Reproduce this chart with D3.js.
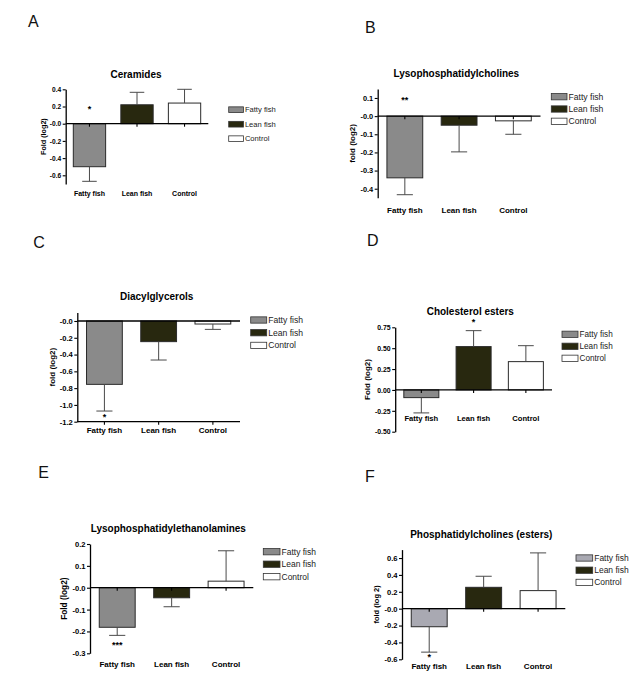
<!DOCTYPE html>
<html>
<head>
<meta charset="utf-8">
<script src="https://cdn.jsdelivr.net/npm/d3@7"></script>
<style>
  body { margin: 0; background: #fff; }
  svg { display: block; font-family: "Liberation Sans", Arial, sans-serif; }
</style>
</head>
<body>
<div id="chart"></div>
<script>
// groups shown in every panel
var groups = ["Fatty fish", "Lean fish", "Control"];

var panelLetters = ["A", "B", "C", "D", "E", "F"];
var panelTitles = [
  "Ceramides",
  "Lysophosphatidylcholines",
  "Diacylglycerols",
  "Cholesterol esters",
  "Lysophosphatidylethanolamines",
  "Phosphatidylcholines (esters)"
];
var yTitles = ["Fold (log2)", "fold (log2)", "fold (log2)", "Fold (log2)", "Fold (log2)", "fold (log 2)"];

// mean fold change (log2) and SEM
var ceramidesMean = [-0.50, 0.22, 0.24];
var ceramidesErr = [0.17, 0.145, 0.16];
var lpcMean = [-0.34, -0.05, -0.026];
var lpcErr = [0.093, 0.147, 0.074];
var dagMean = [-0.755, -0.246, -0.036];
var dagErr = [0.318, 0.219, 0.064];
var cholMean = [-0.092, 0.519, 0.339];
var cholErr = [0.183, 0.191, 0.191];
var lpeMean = [-0.181, -0.046, 0.03];
var lpeErr = [0.037, 0.041, 0.139];
var pcMean = [-0.214, 0.253, 0.214];
var pcErr = [0.301, 0.131, 0.447];

// significance marks
var ceramidesSig = ["*", "", ""];
var lpcSig = ["**", "", ""];
var dagSig = ["*", "", ""];
var cholSig = ["", "*", ""];
var lpeSig = ["***", "", ""];
var pcSig = ["*", "", ""];

// y axes
var yDomains = [[-0.7, 0.4], [-0.45, 0.15], [-1.2, 0.1], [-0.5, 0.75], [-0.3, 0.2], [-0.6, 0.7]];
var yTickValues = [
  [0.4, 0.2, 0, -0.2, -0.4, -0.6],
  [0.1, 0, -0.1, -0.2, -0.3, -0.4],
  [0, -0.2, -0.4, -0.6, -0.8, -1.0, -1.2],
  [0.75, 0.5, 0.25, 0, -0.25, -0.5],
  [0.2, 0.1, 0, -0.1, -0.2, -0.3],
  [0.6, 0.4, 0.2, 0, -0.2, -0.4, -0.6]
];
var yTickLabels = [
  ["0.4", "0.2", "-0.0", "-0.2", "-0.4", "-0.6"],
  ["0.1", "-0.0", "-0.1", "-0.2", "-0.3", "-0.4"],
  ["-0.0", "-0.2", "-0.4", "-0.6", "-0.8", "-1.0", "-1.2"],
  ["0.75", "0.50", "0.25", "0.00", "-0.25", "-0.50"],
  ["0.2", "0.1", "-0.0", "-0.1", "-0.2", "-0.3"],
  ["0.6", "0.4", "0.2", "-0.0", "-0.2", "-0.4", "-0.6"]
];

var means = [ceramidesMean, lpcMean, dagMean, cholMean, lpeMean, pcMean];
var errs = [ceramidesErr, lpcErr, dagErr, cholErr, lpeErr, pcErr];
var sigs = [ceramidesSig, lpcSig, dagSig, cholSig, lpeSig, pcSig];

// layout of each panel (pixels)
var layout = [
  { x0: 65.7, w: 142.6, yTop: 89.3, yBot: 183.9, pad: 0.32, axisAt: 0, ylabOff: 22.5, ylabSize: 7.2, tickSize: 6.6,
    letter: [28, 26.7], title: [136, 77.5], labY: 195.5, labSize: 7, sigAt: 0.19,
    leg: [228.7, 109.7, 14.5, 14.7, 5.7, 7.6], fatty: "#8a8a8a" },
  { x0: 377.7, w: 162.8, yTop: 88.9, yBot: 197.8, pad: 0.34, axisAt: 0, ylabOff: 25.7, ylabSize: 8, tickSize: 7.4,
    letter: [365, 33.3], title: [456.3, 76.7], labY: 212.7, labSize: 8, sigAt: 0.1,
    leg: [551.3, 96.7, 12.3, 15.7, 6.3, 8.6], fatty: "#8a8a8a" },
  { x0: 77.3, w: 162.7, yTop: 312.6, yBot: 421.7, pad: 0.34, axisAt: -1.2, ylabOff: 25.6, ylabSize: 8, tickSize: 7.6,
    letter: [33.3, 248.3], title: [156.7, 300], labY: 432.7, labSize: 8, sigAt: -1.123,
    leg: [250.7, 320, 12.7, 16, 6.3, 8.6], fatty: "#8a8a8a" },
  { x0: 395.2, w: 156.8, yTop: 327.3, yBot: 431.7, pad: 0.33, axisAt: 0, ylabOff: 28.4, ylabSize: 8, tickSize: 6.9,
    letter: [367, 246], title: [470.3, 315], labY: 421, labSize: 7.6, sigAt: 0.837,
    leg: [562, 334.3, 12, 16, 6.3, 8.2], fatty: "#8a8a8a" },
  { x0: 90, w: 163.3, yTop: 544, yBot: 653.3, pad: 0.34, axisAt: 0, ylabOff: 25.7, ylabSize: 8.3, tickSize: 7.6,
    letter: [38.3, 478.3], title: [168.3, 531.7], labY: 666.7, labSize: 8, sigAt: -0.254,
    leg: [263.3, 551.7, 12.5, 16.7, 6.3, 8.5], fatty: "#8a8a8a" },
  { x0: 402, w: 163.3, yTop: 549.6, yBot: 659.3, pad: 0.34, axisAt: 0, ylabOff: 25.7, ylabSize: 7.5, tickSize: 7.6,
    letter: [365, 481.7], title: [481.3, 537.7], labY: 668.7, labSize: 8, sigAt: -0.55,
    leg: [576, 558, 12.2, 16.7, 6.3, 8.5], fatty: "#a9a9b2" }
];

var leanColor = "#28280f";
var controlColor = "#ffffff";

var svg = d3.select("#chart")
  .append("svg")
  .attr("width", 644)
  .attr("height", 681);

svg.append("rect")
  .attr("width", 644)
  .attr("height", 681)
  .attr("fill", "#fff");

panelTitles.forEach(function(title, i) {
  var L = layout[i];
  var colors = [L.fatty, leanColor, controlColor];
  var g = svg.append("g");

  var y = d3.scaleLinear()
    .domain(yDomains[i])
    .range([L.yBot, L.yTop]);

  var x = d3.scaleBand()
    .domain(groups)
    .range([L.x0, L.x0 + L.w])
    .paddingInner(L.pad)
    .paddingOuter(L.pad / 2);

  // panel letter
  g.append("text")
    .attr("x", L.letter[0])
    .attr("y", L.letter[1])
    .attr("font-size", 16)
    .attr("fill", "#111")
    .text(panelLetters[i]);

  // title
  g.append("text")
    .attr("x", L.title[0])
    .attr("y", L.title[1])
    .attr("text-anchor", "middle")
    .attr("font-size", 10)
    .attr("font-weight", "bold")
    .text(title);

  var rows = groups.map(function(name, j) {
    return { name: name, mean: means[i][j], err: errs[i][j], sig: sigs[i][j], color: colors[j] };
  });

  // bars
  g.selectAll("rect.bar")
    .data(rows)
    .enter()
    .append("rect")
    .attr("class", "bar")
    .attr("x", d => x(d.name))
    .attr("width", x.bandwidth())
    .attr("y", d => y(Math.max(0, d.mean)))
    .attr("height", d => Math.abs(y(d.mean) - y(0)))
    .attr("fill", d => d.color)
    .attr("stroke", "#2a2a2a")
    .attr("stroke-width", 1);

  // error bars (one-sided, away from zero)
  var cap = x.bandwidth() * 0.45;
  rows.forEach(function(d) {
    var cx = x(d.name) + x.bandwidth() / 2;
    var end = d.mean + (d.mean < 0 ? -d.err : d.err);
    g.append("line")
      .attr("x1", cx).attr("x2", cx)
      .attr("y1", y(d.mean)).attr("y2", y(end))
      .attr("stroke", "#4a4a4a").attr("stroke-width", 1);
    g.append("line")
      .attr("x1", cx - cap / 2).attr("x2", cx + cap / 2)
      .attr("y1", y(end)).attr("y2", y(end))
      .attr("stroke", "#4a4a4a").attr("stroke-width", 1);
    if (d.sig) {
      g.append("text")
        .attr("x", cx)
        .attr("y", y(L.sigAt) + 5)
        .attr("text-anchor", "middle")
        .attr("font-size", 9)
        .attr("font-weight", "bold")
        .text(d.sig);
    }
  });

  // y axis
  var leftAxis = d3.axisLeft(y)
    .tickValues(yTickValues[i])
    .tickFormat((d, j) => yTickLabels[i][j])
    .tickSize(3)
    .tickSizeOuter(0)
    .tickPadding(1.5);

  var yAxis = g.append("g")
    .attr("transform", `translate(${L.x0}, 0)`)
    .call(leftAxis);
  yAxis.select(".domain").attr("stroke", "#000").attr("stroke-width", 1.3);
  yAxis.selectAll(".tick line").attr("stroke", "#000").attr("stroke-width", 1.1);
  yAxis.selectAll(".tick text")
    .attr("font-family", "Liberation Sans, Arial, sans-serif")
    .attr("font-size", L.tickSize)
    .attr("font-weight", "bold")
    .attr("fill", "#000");

  // y title
  g.append("text")
    .attr("transform", `translate(${L.x0 - L.ylabOff}, ${(L.yTop + L.yBot) / 2}) rotate(-90)`)
    .attr("text-anchor", "middle")
    .attr("dy", "0.35em")
    .attr("font-size", L.ylabSize)
    .attr("font-weight", "bold")
    .text(yTitles[i]);

  // zero line
  g.append("line")
    .attr("x1", L.x0).attr("x2", L.x0 + L.w)
    .attr("y1", y(0)).attr("y2", y(0))
    .attr("stroke", "#000").attr("stroke-width", 1.3);

  // category axis
  var axisY = y(L.axisAt);
  if (L.axisAt !== 0) {
    g.append("line")
      .attr("x1", L.x0).attr("x2", L.x0 + L.w)
      .attr("y1", axisY).attr("y2", axisY)
      .attr("stroke", "#000").attr("stroke-width", 1.3);
  }
  groups.forEach(function(name) {
    var cx = x(name) + x.bandwidth() / 2;
    g.append("line")
      .attr("x1", cx).attr("x2", cx)
      .attr("y1", axisY).attr("y2", axisY + 3)
      .attr("stroke", "#000").attr("stroke-width", 1.1);
    g.append("text")
      .attr("x", cx)
      .attr("y", L.labY)
      .attr("text-anchor", "middle")
      .attr("font-size", L.labSize)
      .attr("font-weight", "bold")
      .text(name);
  });

  // legend
  var lg = L.leg;
  groups.forEach(function(name, j) {
    var cy = lg[1] + j * lg[2];
    g.append("rect")
      .attr("x", lg[0])
      .attr("y", cy - lg[4] / 2)
      .attr("width", lg[3])
      .attr("height", lg[4])
      .attr("fill", colors[j])
      .attr("stroke", "#333")
      .attr("stroke-width", 0.8);
    g.append("text")
      .attr("x", lg[0] + lg[3] + 1.5)
      .attr("y", cy)
      .attr("dy", "0.35em")
      .attr("font-size", lg[5])
      .attr("fill", "#222")
      .text(name);
  });
});
</script>
</body>
</html>
